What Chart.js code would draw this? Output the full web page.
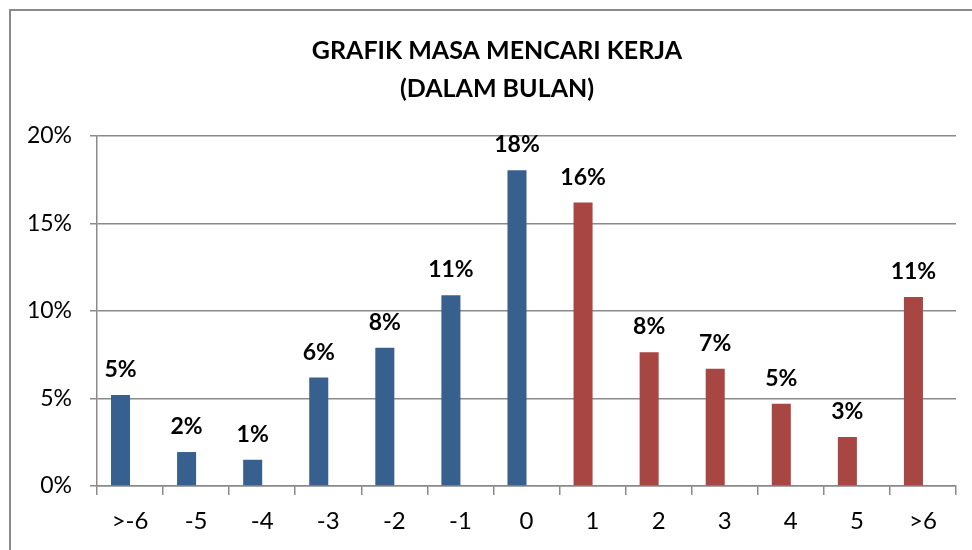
<!DOCTYPE html>
<html>
<head>
<meta charset="utf-8">
<script src="https://cdn.jsdelivr.net/npm/chart.js@4"></script>
<style>
    html, body { margin: 0; padding: 0; background: #fff; overflow: hidden; }
    #wrap { position: relative; width: 972px; height: 550px; }
    #frame { position: absolute; left: 9px; top: 9px; width: 1000px; height: 600px; border: 2px solid #8a8a8a; box-sizing: border-box; }
    canvas { position: absolute; left: 0; top: 0; }
</style>
</head>
<body>
<div id="wrap">
    <div id="frame"></div>
    <canvas id="kerja-chart" width="972" height="550"></canvas>
</div>
<script>
const categories = ['>-6', '-5', '-4', '-3', '-2', '-1', '0', '1', '2', '3', '4', '5', '>6'];
const persen = [5.2, 1.94, 1.5, 6.2, 7.9, 10.9, 18.05, 16.2, 7.65, 6.7, 4.7, 2.8, 10.8];
const labelPersen = ['5%', '2%', '1%', '6%', '8%', '11%', '18%', '16%', '8%', '7%', '5%', '3%', '11%'];
const yTicks = [0, 5, 10, 15, 20];
const judul = ['GRAFIK MASA MENCARI KERJA', '(DALAM BULAN)'];

const warnaBiru = '#37608f';
const warnaMerah = '#a84644';
const warna = categories.map((c, i) => i <= 6 ? warnaBiru : warnaMerah);

// judul digambar sendiri supaya bisa di tengah bingkai
const judulPlugin = {
    id: 'judulPlugin',
    afterDraw(chart) {
        const ctx = chart.ctx;
        ctx.save();
        ctx.font = 'bold 25px Lato';
        ctx.fillStyle = '#000';
        ctx.textAlign = 'center';
        ctx.textBaseline = 'middle';
        ctx.fillText(judul[0], 497, 51);
        ctx.fillText(judul[1], 497, 89);
        ctx.restore();
    }
};

// label angka di atas batang
const labelAtas = {
    id: 'labelAtas',
    afterDatasetsDraw(chart) {
        const ctx = chart.ctx;
        const meta = chart.getDatasetMeta(0);
        ctx.save();
        ctx.font = 'bold 23px Lato';
        ctx.fillStyle = '#000';
        ctx.textAlign = 'center';
        ctx.textBaseline = 'alphabetic';
        meta.data.forEach((bar, i) => {
            ctx.fillText(labelPersen[i], bar.x, bar.y - 18);
        });
        ctx.restore();
    }
};

new Chart(document.getElementById('kerja-chart'), {
    type: 'bar',
    data: {
        labels: categories,
        datasets: [{
            data: persen,
            backgroundColor: warna,
            borderWidth: 0,
            barPercentage: 1,
            categoryPercentage: 0.576
        }, {
            // seri kosong, seperti di Excel batang tergeser ke kiri
            data: [],
            borderWidth: 0,
            barPercentage: 1,
            categoryPercentage: 0.576
        }]
    },
    options: {
        responsive: false,
        animation: false,
        events: [],
        layout: { padding: { left: 0, right: 16, top: 136, bottom: 0 } },
        plugins: {
            legend: { display: false },
            tooltip: { enabled: false },
            title: { display: false }
        },
        scales: {
            x: {
                offset: true,
                afterFit: scale => { scale.height = 64; },
                grid: {
                    offset: true,
                    drawOnChartArea: false,
                    drawTicks: true,
                    tickLength: 9,
                    color: '#8a8a8a',
                    lineWidth: 1.5
                },
                border: { display: true, color: '#8a8a8a', width: 1.5 },
                ticks: {
                    color: '#000',
                    font: { family: 'Lato', size: 24 },
                    padding: 12,
                    maxRotation: 0
                }
            },
            y: {
                min: 0,
                max: 20,
                afterFit: scale => { scale.width = 97; },
                afterBuildTicks: scale => { scale.ticks = yTicks.map(v => ({ value: v })); },
                grid: {
                    color: '#8a8a8a',
                    lineWidth: 1.5,
                    drawTicks: true,
                    tickLength: 7
                },
                border: { display: true, color: '#8a8a8a', width: 1.5 },
                ticks: {
                    color: '#000',
                    font: { family: 'Lato', size: 23 },
                    padding: 18,
                    callback: v => v + '%'
                }
            }
        }
    },
    plugins: [labelAtas, judulPlugin]
});
</script>
</body>
</html>
